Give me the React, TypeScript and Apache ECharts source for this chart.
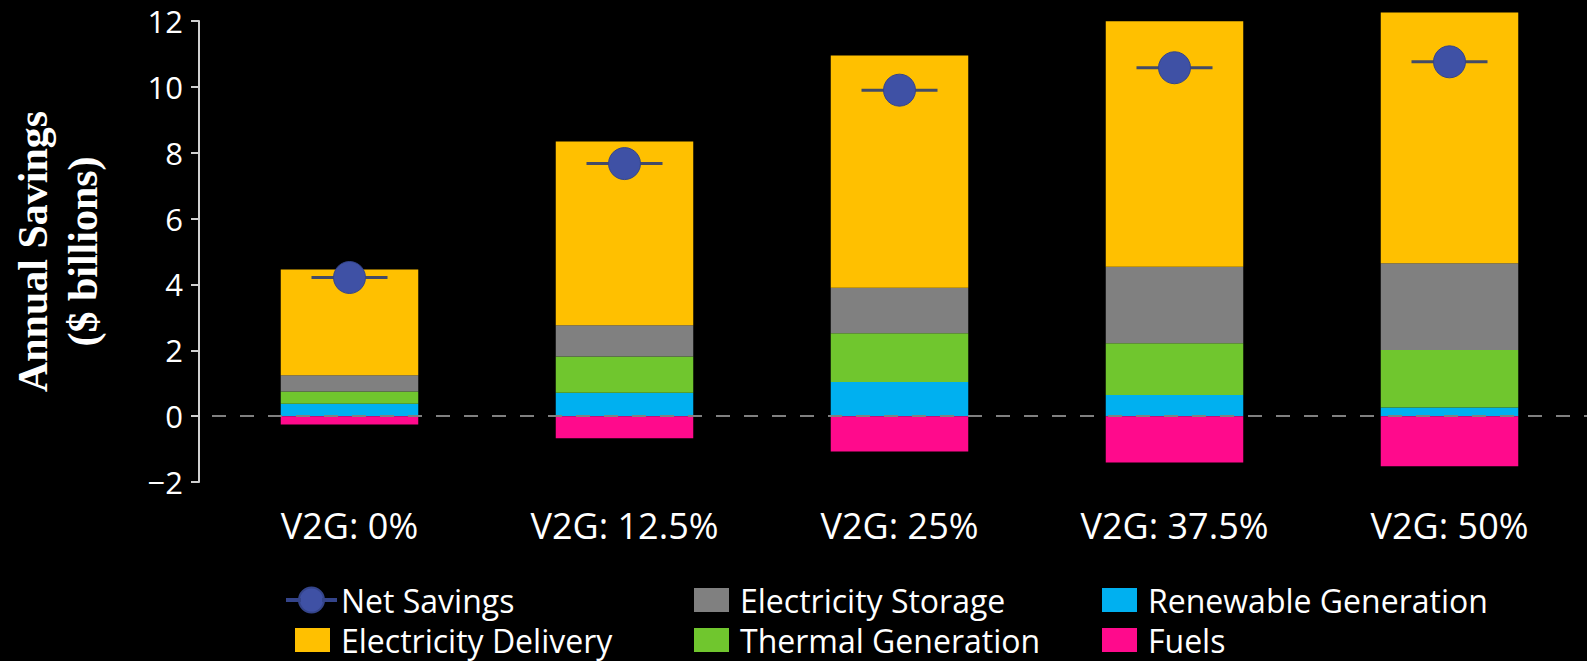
import React, { useEffect, useRef } from "react";
import * as echarts from "echarts";

const categories = ["V2G: 0%", "V2G: 12.5%", "V2G: 25%", "V2G: 37.5%", "V2G: 50%"];
const renewableGeneration = [0.38, 0.71, 1.04, 0.64, 0.26];
const thermalGeneration = [0.37, 1.1, 1.48, 1.57, 1.75];
const electricityStorage = [0.49, 0.95, 1.38, 2.33, 2.63];
const electricityDelivery = [3.21, 5.58, 7.05, 7.45, 7.62];
const fuels = [-0.25, -0.67, -1.07, -1.41, -1.52];
const netSavings = [4.21, 7.67, 9.9, 10.58, 10.76];
const yTicks = { min: -2, max: 12, interval: 2 };

const FONT = "'Open Sans', sans-serif";

export default function App() {
  const ref = useRef<HTMLDivElement>(null);
  useEffect(() => {
    document.body.style.margin = "0";
    document.body.style.background = "#000";
    const chart = echarts.init(ref.current!, null, { renderer: "svg" });
    const barBase = {
      type: "bar",
      stack: "total",
      barWidth: "50%",
      clip: false,
    };
    const legendItem = (name: string, left: number, top: number, extra: any = {}) => ({
      show: true,
      left,
      top,
      padding: 0,
      orient: "vertical",
      itemWidth: 35,
      itemHeight: 24,
      icon: "rect",
      data: [name],
      selectedMode: false,
      textStyle: {
        color: "#fff",
        fontFamily: FONT,
        fontSize: 32,
        lineHeight: 30,
        padding: [0, 0, 0, 6],
      },
      ...extra,
    });
    chart.setOption({
      animation: false,
      backgroundColor: "#000",
      grid: { left: 206, right: -6, top: 21, bottom: 179 },
      xAxis: {
        type: "category",
        data: categories,
        axisLine: { show: false },
        axisTick: { show: false },
        axisLabel: { color: "#fff", fontFamily: FONT, fontSize: 36, margin: 25 },
      },
      yAxis: {
        type: "value",
        min: yTicks.min,
        max: yTicks.max,
        interval: yTicks.interval,
        offset: 13,
        name: "Annual Savings\n($ billions)",
        nameLocation: "middle",
        nameGap: 91,
        nameTextStyle: {
          color: "#fff",
          fontFamily: "'Liberation Serif', serif",
          fontSize: 42,
          fontWeight: "bold",
          lineHeight: 50,
        },
        axisLine: { show: true, lineStyle: { color: "#d0d0d0", width: 2 } },
        axisTick: { show: true, length: 8, lineStyle: { color: "#d0d0d0", width: 2 } },
        axisLabel: {
          color: "#fff",
          fontFamily: FONT,
          fontSize: 31,
          margin: 16,
          formatter: (v: number) => String(v).replace("-", "\u2212"),
        },
        splitLine: { show: false },
      },
      legend: [
        legendItem("Net Savings", 286, 584, {
          itemWidth: 49,
          itemHeight: 25,
          icon:
            "path://M0,11.5 H13 V13.5 H0 Z M36,11.5 H49 V13.5 H36 Z M12,12.5 A12.5,12.5 0 1 1 37,12.5 A12.5,12.5 0 1 1 12,12.5 Z",
          textStyle: { color: "#fff", fontFamily: FONT, fontSize: 32, lineHeight: 30, padding: [0, 0, 0, 0] },
        }),
        legendItem("Electricity Delivery", 295, 624),
        legendItem("Electricity Storage", 694, 584),
        legendItem("Thermal Generation", 694, 624),
        legendItem("Renewable Generation", 1102, 584),
        legendItem("Fuels", 1102, 624),
      ],
      series: [
        {
          ...barBase,
          name: "Renewable Generation",
          data: renewableGeneration,
          itemStyle: { color: "#00B0F0" },
          markLine: {
            silent: true,
            symbol: ["none", "none"],
            label: { show: false },
            lineStyle: { type: [14, 14], color: "#808080", width: 2 },
            data: [{ yAxis: 0 }],
          },
        },
        { ...barBase, name: "Thermal Generation", data: thermalGeneration, itemStyle: { color: "#70C62E" } },
        { ...barBase, name: "Electricity Storage", data: electricityStorage, itemStyle: { color: "#808080" } },
        { ...barBase, name: "Electricity Delivery", data: electricityDelivery, itemStyle: { color: "#FFC000" } },
        { ...barBase, name: "Fuels", data: fuels, itemStyle: { color: "#FF0A8C" } },
        {
          type: "scatter",
          name: "Net Savings Line",
          data: netSavings,
          symbol: "rect",
          symbolSize: [76, 3],
          itemStyle: { color: "#434B68", opacity: 1 },
          z: 5,
        },
        {
          type: "scatter",
          name: "Net Savings",
          data: netSavings,
          symbol: "circle",
          symbolSize: 32,
          itemStyle: { color: "#3F51A5", borderColor: "#34448a", borderWidth: 1, opacity: 1 },
          z: 6,
        },
      ],
    });
    return () => chart.dispose();
  }, []);
  return <div ref={ref} style={{ width: 1587, height: 661 }} />;
}
